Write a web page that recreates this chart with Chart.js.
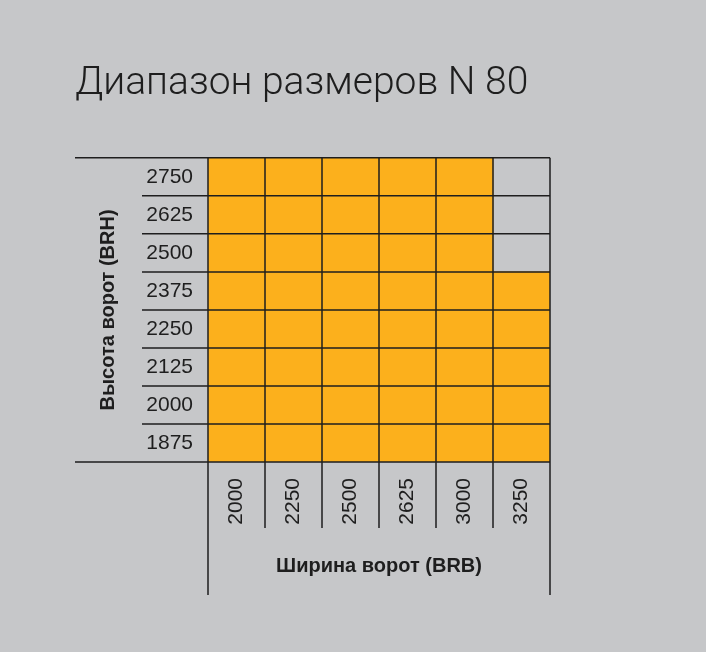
<!DOCTYPE html>
<html>
<head>
<meta charset="utf-8">
<script src="https://cdn.jsdelivr.net/npm/chart.js"></script>
<style>
  html, body { margin: 0; padding: 0; background: #c6c7c9; }
  canvas { display: block; }
</style>
</head>
<body>
<canvas id="rangeChart" width="706" height="652"></canvas>
<script>
// Door sizes (mm)
var widths = ['2000', '2250', '2500', '2625', '3000', '3250'];
var heights = ['1875', '2000', '2125', '2250', '2375', '2500', '2625', '2750'];
// biggest height available for each width
var maxHeight = [2750, 2750, 2750, 2750, 2750, 2375];

var orange = '#fcb01c';
var ink = '#1e1e1e';
var textFont = '"Liberation Sans", Arial, sans-serif';

// one stacked dataset per height row, a cell is 1 when the size exists
var datasets = heights.map(function (h) {
    return {
        label: h,
        data: widths.map(function (w, i) {
            return parseInt(h) <= maxHeight[i] ? 1 : null;
        }),
        backgroundColor: orange,
        borderWidth: 0,
        barPercentage: 1,
        categoryPercentage: 1,
        yAxisID: 'y'
    };
});

// draws the table lines from the scales
var tableLines = {
    id: 'tableLines',
    afterDatasetsDraw: function (chart) {
        var ctx = chart.ctx;
        var area = chart.chartArea;
        var y = chart.scales.y;
        var x = chart.scales.x;
        var yLab = chart.scales.yLab;
        ctx.save();
        ctx.strokeStyle = ink;
        ctx.lineWidth = 1.5;
        ctx.beginPath();
        for (var i = 0; i <= heights.length; i++) {
            var py = y.getPixelForValue(i);
            var startX = (i === 0 || i === heights.length) ? yLab.left : yLab.right - 66;
            ctx.moveTo(startX, py);
            ctx.lineTo(area.right, py);
        }
        var colW = (area.right - area.left) / widths.length;
        for (var k = 0; k <= widths.length; k++) {
            var px = k < widths.length ? x.getPixelForValue(k) - colW / 2 : x.getPixelForValue(k - 1) + colW / 2;
            var endY = (k === 0 || k === widths.length) ? x.bottom : area.bottom + 66;
            ctx.moveTo(px, area.top);
            ctx.lineTo(px, endY);
        }
        ctx.stroke();
        ctx.restore();
    }
};

new Chart(document.getElementById('rangeChart').getContext('2d'), {
    type: 'bar',
    data: { labels: widths, datasets: datasets },
    options: {
        responsive: false,
        animation: false,
        layout: { padding: { left: 75, right: 156, top: 0, bottom: 57 } },
        plugins: {
            legend: { display: false },
            tooltip: { enabled: false },
            title: {
                display: true,
                text: 'Диапазон размеров N 80',
                align: 'start',
                color: ink,
                font: { family: 'Roboto, "Liberation Sans", sans-serif', size: 39, weight: '300' },
                padding: { top: 61, bottom: 50 }
            }
        },
        scales: {
            x: {
                type: 'category',
                stacked: true,
                offset: true,
                grid: { display: false },
                border: { display: false },
                ticks: {
                    autoSkip: false,
                    minRotation: 90,
                    maxRotation: 90,
                    padding: 8,
                    color: ink,
                    font: { family: textFont, size: 21 }
                },
                title: {
                    display: true,
                    text: 'Ширина ворот (BRB)',
                    color: ink,
                    font: { family: textFont, size: 20, weight: 'bold' },
                    padding: { top: 0, bottom: 17 }
                },
                afterFit: function (scale) { scale.height = 133; }
            },
            y: {
                type: 'linear',
                stacked: true,
                min: 0,
                max: heights.length,
                display: false
            },
            yLab: {
                type: 'category',
                position: 'left',
                labels: heights.slice().reverse(),
                offset: true,
                grid: { display: false },
                border: { display: false },
                ticks: {
                    padding: 7,
                    color: ink,
                    font: { family: textFont, size: 21 }
                },
                title: {
                    display: true,
                    text: 'Высота ворот (BRH)',
                    color: ink,
                    font: { family: textFont, size: 20, weight: 'bold' },
                    padding: { top: 21, bottom: 0 }
                },
                afterFit: function (scale) { scale.width = 133; }
            }
        }
    },
    plugins: [tableLines]
});
</script>
</body>
</html>
